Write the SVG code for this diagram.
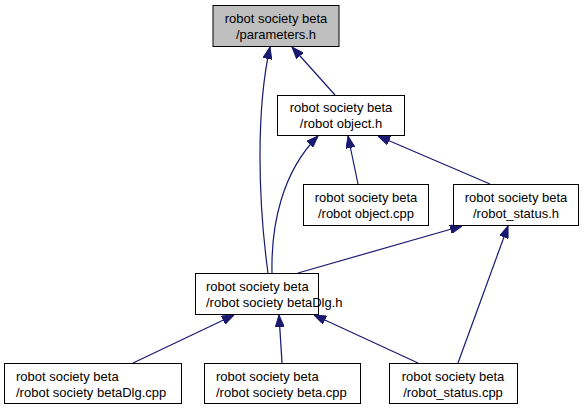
<svg xmlns="http://www.w3.org/2000/svg" width="585" height="409" viewBox="0 0 585 409">
<style>
.box{fill:#ffffff;stroke:#000000;stroke-width:1}
.root{fill:#bfbfbf}
text{font-family:"Liberation Sans",Arial,sans-serif;font-size:13px;fill:#000000}
.c{text-anchor:middle}
.e{fill:none;stroke:#191970;stroke-width:1.2}
</style>
<defs>
<marker id="arr" markerUnits="userSpaceOnUse" markerWidth="12" markerHeight="9" refX="12" refY="4.5" orient="auto">
<path d="M0,0 L12,4.5 L0,9 z" fill="#191970" stroke="#191970"/>
</marker>
</defs>
<rect width="585" height="409" fill="#ffffff"/>
<g id="edges">
<path class="e" marker-end="url(#arr)" d="M335,95 L292,47"/>
<path class="e" marker-end="url(#arr)" d="M268,273 C258,200 256,110 270,47"/>
<path class="e" marker-end="url(#arr)" d="M272,273 C271,225 282,172 318,136"/>
<path class="e" marker-end="url(#arr)" d="M358,184 L348,136"/>
<path class="e" marker-end="url(#arr)" d="M490,184 L378,136"/>
<path class="e" marker-end="url(#arr)" d="M298,273 L462,226"/>
<path class="e" marker-end="url(#arr)" d="M458,363 L508,226"/>
<path class="e" marker-end="url(#arr)" d="M133,363 L234,315"/>
<path class="e" marker-end="url(#arr)" d="M282,363 L279,315"/>
<path class="e" marker-end="url(#arr)" d="M418,363 L314,315"/>
</g>
<g id="node-parameters">
<rect class="box root" x="213" y="5.5" width="126" height="41"/>
<text class="c" x="276" y="23">robot society beta</text>
<text class="c" x="276" y="39">/parameters.h</text>
</g>
<g id="node-object-h">
<rect class="box" x="277.5" y="95.5" width="127" height="40"/>
<text class="c" x="341" y="112">robot society beta</text>
<text class="c" x="341" y="128">/robot object.h</text>
</g>
<g id="node-object-cpp">
<rect class="box" x="303.5" y="184.5" width="125" height="41"/>
<text class="c" x="366" y="202">robot society beta</text>
<text class="c" x="366" y="218">/robot object.cpp</text>
</g>
<g id="node-status-h">
<rect class="box" x="453.5" y="184.5" width="125" height="41"/>
<text class="c" x="516" y="202">robot society beta</text>
<text class="c" x="516" y="218">/robot_status.h</text>
</g>
<g id="node-betadlg-h">
<rect class="box" x="195.5" y="273.5" width="123" height="41"/>
<text x="206" y="291">robot society beta</text>
<text x="206" y="307">/robot society betaDlg.h</text>
</g>
<g id="node-betadlg-cpp">
<rect class="box" x="4.5" y="363.5" width="177" height="40"/>
<text x="16" y="381">robot society beta</text>
<text x="16" y="397">/robot society betaDlg.cpp</text>
</g>
<g id="node-beta-cpp">
<rect class="box" x="204.5" y="363.5" width="156" height="40"/>
<text x="216" y="381">robot society beta</text>
<text x="216" y="397">/robot society beta.cpp</text>
</g>
<g id="node-status-cpp">
<rect class="box" x="389.5" y="363.5" width="128" height="40"/>
<text class="c" x="453" y="381">robot society beta</text>
<text class="c" x="453" y="397">/robot_status.cpp</text>
</g>
</svg>
